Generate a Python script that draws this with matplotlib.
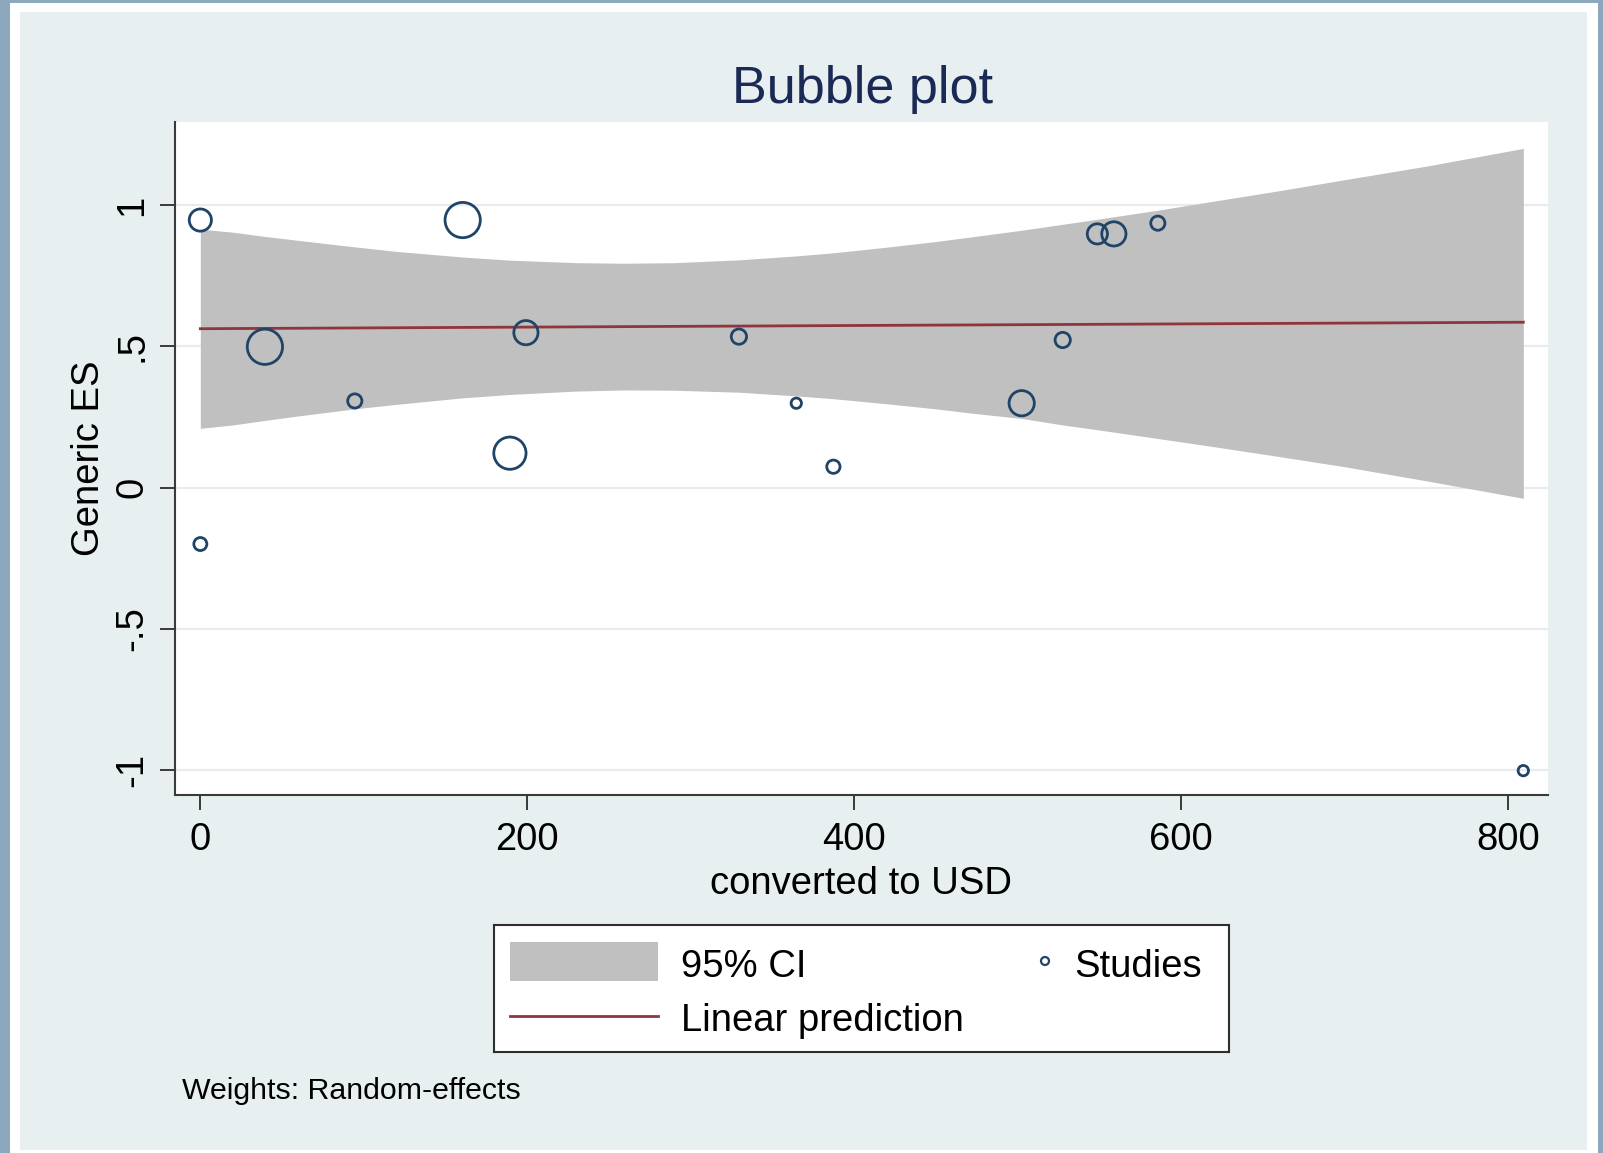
import matplotlib

matplotlib.use("Agg")
import matplotlib.pyplot as plt
import numpy as np
from matplotlib.patches import Rectangle

plt.rcParams["font.family"] = ["Liberation Sans", "DejaVu Sans"]

# Studies: moderator (converted to USD), generic effect size, random-effects weight (%)
cost_usd = [0.0, 0.0, 39.5, 94.5, 160.5, 189.4, 199.2, 329.5,
            364.6, 387.3, 502.5, 527.6, 548.8, 558.9, 585.8, 809.4]
effect_size = [0.948, -0.200, 0.499, 0.307, 0.948, 0.122, 0.549, 0.535,
               0.299, 0.074, 0.299, 0.523, 0.899, 0.899, 0.937, -1.003]
re_weight = [6.5, 2.6, 15.1, 3.0, 15.1, 12.8, 7.6, 3.4,
             1.8, 2.7, 8.2, 3.4, 5.5, 7.6, 3.0, 1.8]

# Fitted meta-regression 95% CI, read along the moderator range
band_x = [0.0, 20.0, 39.5, 60.0, 94.5, 120.0, 160.5, 189.4, 230.0, 260.0,
          290.0, 329.5, 364.6, 387.3, 420.0, 450.0, 470.0, 502.5, 527.6,
          548.8, 585.8, 620.0, 660.0, 700.0, 750.0, 809.4]
ci_upper = [0.916, 0.905, 0.890, 0.876, 0.853, 0.837, 0.817, 0.806, 0.797,
            0.795, 0.797, 0.807, 0.821, 0.832, 0.852, 0.872, 0.887, 0.912,
            0.933, 0.951, 0.983, 1.015, 1.052, 1.091, 1.139, 1.202]
ci_lower = [0.210, 0.222, 0.238, 0.254, 0.279, 0.295, 0.318, 0.330, 0.342,
            0.346, 0.345, 0.338, 0.325, 0.315, 0.297, 0.279, 0.265, 0.245,
            0.222, 0.205, 0.174, 0.145, 0.110, 0.074, 0.024, -0.038]
pred_x = [0.0, 809.4]
pred_y = [0.563, 0.586]

xticks = [0, 200, 400, 600, 800]
yticks = [-1, -0.5, 0, 0.5, 1]
ytick_labels = ["-1", "-.5", "0", ".5", "1"]

NAVY = "#1F4467"
MAROON = "#90353B"
BAND = "#C0C0C0"
AXIS = "#3A3A3A"
FS = 27.5
W, H = 1603, 1153


def fx(px):
    return px / W


def fy(py):
    return 1 - py / H


fig = plt.figure(figsize=(W / 100, H / 100), dpi=100)
fig.patch.set_facecolor("#8DA8BD")
fig.patches.append(Rectangle((fx(10), fy(1153)), (1598 - 10) / W, (1153 - 3) / H,
                             transform=fig.transFigure, facecolor="white",
                             edgecolor="none", zorder=-3))
fig.patches.append(Rectangle((fx(20), fy(1150)), (1587 - 20) / W, (1150 - 12) / H,
                             transform=fig.transFigure, facecolor="#E7EFF1",
                             edgecolor="none", zorder=-2))

ax = fig.add_axes([fx(175), fy(795), (1548 - 175) / W, (795 - 122) / H])
ax.set_facecolor("white")
ax.set_xlim(-15.5, 824.5)
ax.set_ylim(-1.0893, 1.2955)

ax.fill_between(band_x, ci_lower, ci_upper, color=BAND, linewidth=0, zorder=1)
ax.plot(pred_x, pred_y, color=MAROON, linewidth=2.0, zorder=2)

# marker area grows with the study weight
diam_pt = 7.05 * np.sqrt(np.array(re_weight)) - 2.0
ax.scatter(cost_usd, effect_size, s=diam_pt ** 2, facecolors="none",
           edgecolors=NAVY, linewidths=2.0, zorder=3, clip_on=False)

ax.set_axisbelow(True)
ax.yaxis.grid(True, color="#E6ECEF", linewidth=1.6)
for side in ("top", "right"):
    ax.spines[side].set_visible(False)
for side in ("left", "bottom"):
    ax.spines[side].set_color(AXIS)
    ax.spines[side].set_linewidth(1.5)

ax.set_xticks(xticks)
ax.set_yticks(yticks)
ax.set_yticklabels(ytick_labels)
ax.tick_params(axis="both", length=10.8, width=1.4, color=AXIS, labelsize=FS)
ax.tick_params(axis="x", pad=8.5)
ax.tick_params(axis="y", pad=7.0)
for lbl in ax.get_yticklabels():
    lbl.set_rotation(90)
    lbl.set_verticalalignment("center")
    lbl.set_horizontalalignment("right")

ax.set_xlabel("converted to USD", fontsize=FS, va="baseline")
ax.xaxis.set_label_coords(0.5, -0.147)
ax.set_ylabel("Generic ES", fontsize=FS, va="baseline")
ax.yaxis.set_label_coords(-0.0554, 0.5)

fig.text(fx(862.5), fy(103.3), "Bubble plot", ha="center", va="baseline",
         fontsize=37.5, color="#1B2A55")
fig.text(fx(182), fy(1099), "Weights: Random-effects", fontsize=21.8,
         va="baseline")

# legend box, laid out in pixel units
leg = fig.add_axes([fx(494), fy(1052), (1229 - 494) / W, (1052 - 925) / H])
leg.set_xlim(494, 1229)
leg.set_ylim(1052, 925)
leg.set_facecolor("white")
leg.set_xticks([])
leg.set_yticks([])
for sp in leg.spines.values():
    sp.set_color("#2E2E2E")
    sp.set_linewidth(1.5)
leg.add_patch(Rectangle((510, 942), 148, 39, facecolor=BAND, linewidth=0))
leg.plot([510, 658], [1016, 1016], color=MAROON, linewidth=2.0)
leg.scatter([1045], [961], s=33, facecolors="none", edgecolors=NAVY,
            linewidths=1.6)
leg.text(681, 977, "95% CI", fontsize=FS, va="baseline")
leg.text(681, 1030.7, "Linear prediction", fontsize=FS, va="baseline")
leg.text(1074, 977, "Studies", fontsize=FS, va="baseline")

fig.savefig("out.png", dpi=100, facecolor=fig.get_facecolor())
